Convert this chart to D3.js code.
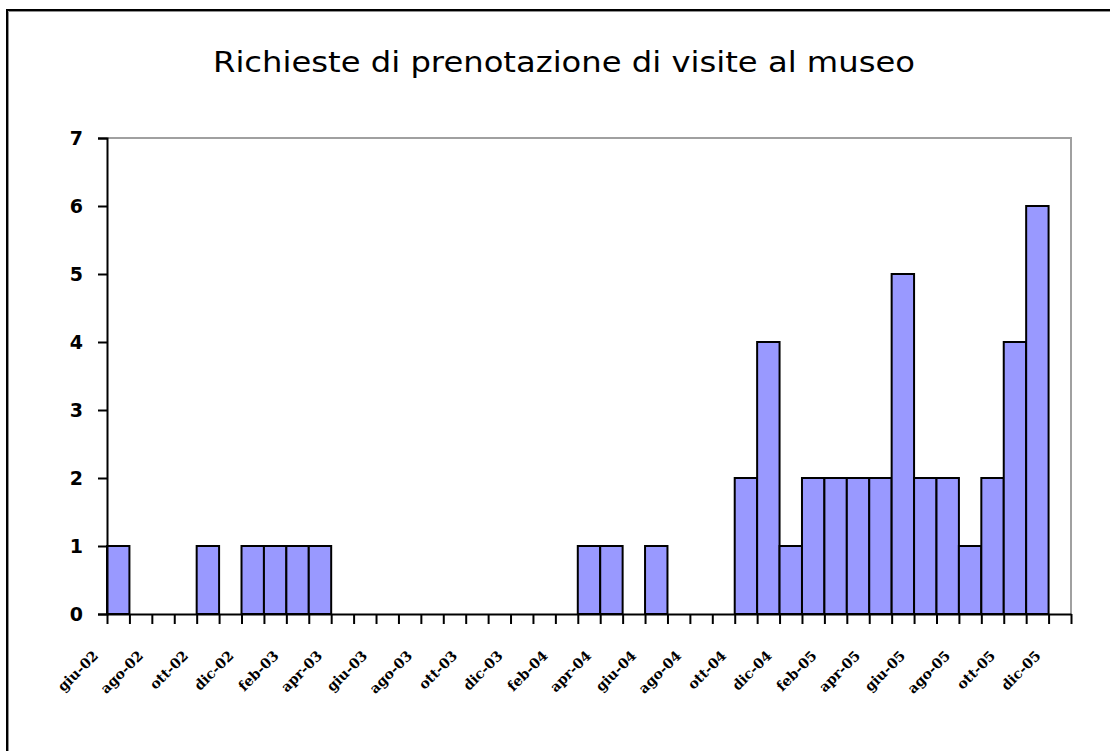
<!DOCTYPE html>
<html><head><meta charset="utf-8">
<script src="https://cdn.jsdelivr.net/npm/d3@7"></script>
<style>body{margin:0;background:#fff}#wrap{position:relative;width:1110px;height:751px}svg{display:block;position:absolute;left:0;top:0}
.xl{position:absolute;white-space:nowrap;font-family:"DejaVu Serif";font-weight:bold;font-size:14px;line-height:14px;color:#000;transform-origin:100% 100%;transform:rotate(-45deg)}</style>
</head><body>
<div id="wrap"></div>
<script>
const title = "Richieste di prenotazione di visite al museo";
const months = ["giu-02","lug-02","ago-02","set-02","ott-02","nov-02","dic-02",
"gen-03","feb-03","mar-03","apr-03","mag-03","giu-03","lug-03","ago-03","set-03","ott-03","nov-03","dic-03",
"gen-04","feb-04","mar-04","apr-04","mag-04","giu-04","lug-04","ago-04","set-04","ott-04","nov-04","dic-04",
"gen-05","feb-05","mar-05","apr-05","mag-05","giu-05","lug-05","ago-05","set-05","ott-05","nov-05","dic-05"];
const values = [1,0,0,0,1,0,1,
1,1,1,0,0,0,0,0,0,0,0,0,
0,0,1,1,0,1,0,0,0,2,4,1,
2,2,2,2,5,2,2,1,2,4,6,0];
const yTicks = [0,1,2,3,4,5,6,7];

const W = 1110, H = 751;
const m = {left:107, right:1071, top:138, bottom:614};
const wrap = d3.select("#wrap");
const svg = wrap.append("svg").attr("width",W).attr("height",H);

// outer frame (cut off at right and bottom)
svg.append("path").attr("d","M7,760 V10 H1120").attr("fill","none").attr("stroke","#000").attr("stroke-width",2);
svg.append("path").attr("d","M8.5,760 V11.5 H1120").attr("fill","none").attr("stroke","#909090").attr("stroke-width",1);

const x = d3.scaleBand().domain(months).range([m.left,m.right]).padding(0);
const y = d3.scaleLinear().domain([0,7]).range([m.bottom,m.top]);

// plot area border (gray top/right)
svg.append("path").attr("d",`M${m.left},${m.top} H${m.right} V${m.bottom}`)
  .attr("fill","none").attr("stroke","#a0a0a0").attr("stroke-width",2);

// bars
svg.append("g").selectAll("rect").data(months.map((mo,i)=>({mo,v:values[i]})).filter(d=>d.v>0))
  .join("rect")
  .attr("x",d=>x(d.mo)).attr("width",x.bandwidth())
  .attr("y",d=>y(d.v)).attr("height",d=>y(0)-y(d.v))
  .attr("fill","#9999ff").attr("stroke","#000").attr("stroke-width",2);

// y axis
const ya = svg.append("g").attr("transform",`translate(${m.left},0)`)
  .call(d3.axisLeft(y).tickValues(yTicks).tickFormat(d3.format("d")).tickSize(9).tickPadding(15));
ya.select(".domain").attr("stroke","#000").attr("stroke-width",2);
ya.selectAll(".tick line").attr("stroke","#000").attr("stroke-width",2);
ya.selectAll(".tick text").attr("font-family","DejaVu Sans").attr("font-weight","bold")
  .attr("font-size",19).attr("fill","#000").attr("dy","0.36em");

// x axis: ticks at every category boundary
const bounds = d3.range(months.length+1);
const xb = d3.scaleLinear().domain([0,months.length]).range([m.left,m.right]);
const xa = svg.append("g").attr("transform",`translate(0,${m.bottom})`)
  .call(d3.axisBottom(xb).tickValues(bounds).tickFormat("").tickSize(10).tickSizeOuter(0));
xa.select(".domain").attr("stroke","#000").attr("stroke-width",2);
xa.selectAll(".tick line").attr("stroke","#000").attr("stroke-width",2);

// x labels every 2 months, rotated -45deg around their right-bottom corner
wrap.selectAll("div.xl").data(months.filter((d,i)=>i%2===0))
  .join("div").attr("class","xl").text(d=>d)
  .each(function(d){
    const el = this, w = el.offsetWidth, h = el.offsetHeight;
    const ax = x(d)+x.bandwidth()/2-17, ay = 658;
    el.style.left = (ax - w) + "px";
    el.style.top = (ay - h) + "px";
  });

// title
svg.append("text").attr("x",564).attr("y",72).attr("text-anchor","middle")
  .attr("font-family","DejaVu Sans").attr("font-size",28)
  .attr("textLength",702).attr("lengthAdjust","spacingAndGlyphs")
  .attr("fill","#000").text(title);
</script>
</body></html>
